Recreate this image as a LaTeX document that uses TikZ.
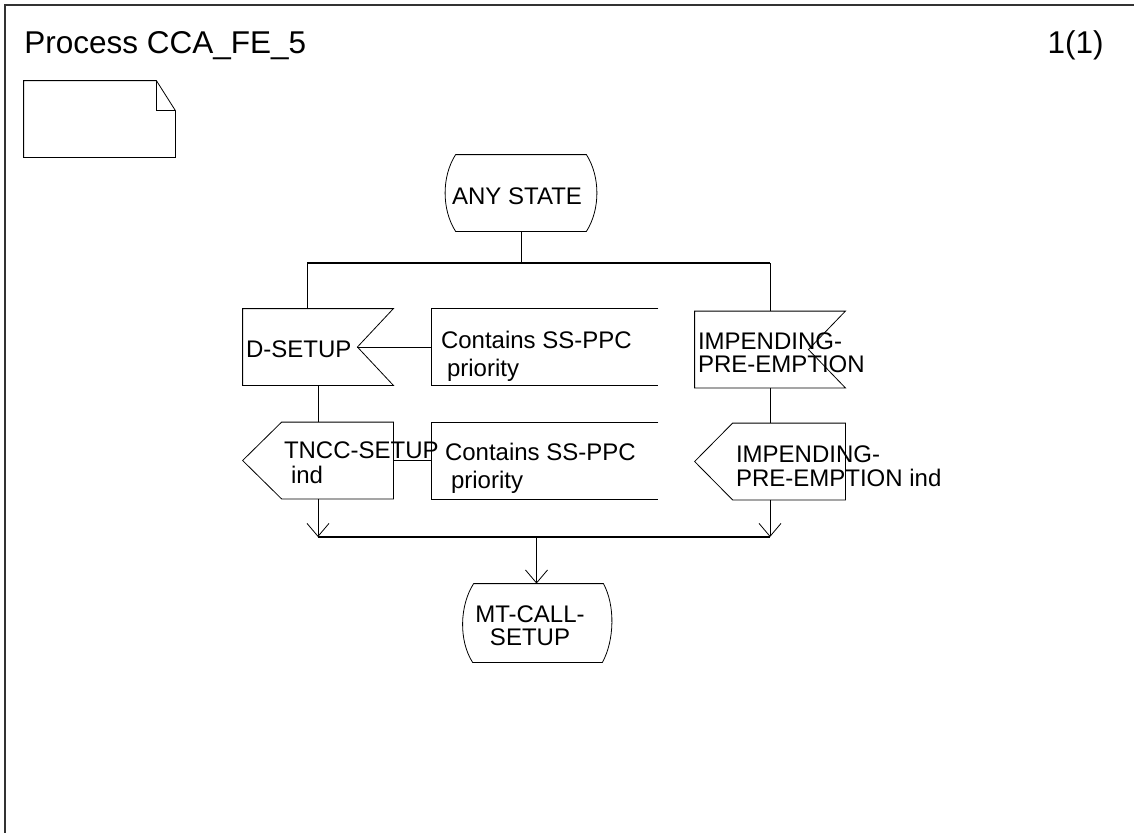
\documentclass[tikz,border=0pt]{standalone}
\usepackage{fontspec}
\setmainfont{Liberation Sans}
\usetikzlibrary{arrows.meta}
\begin{document}
\begin{tikzpicture}[x=1pt,y=-1pt,line width=0.8pt,
  sym/.style={minimum width=150pt,minimum height=76pt,inner sep=0pt},
  txt/.style={anchor=base west,inner sep=0pt,align=left,font=\fontsize{24}{24}\selectfont},
  cmtxt/.style={txt,font=\fontsize{24}{28}\selectfont},
  bus/.style={line width=1.8pt},
  flow/.style={-{Straight Barb[length=13pt,width=22pt]}}]
\useasboundingbox (0,0) rectangle (1134,833);
\draw[line width=1.2pt,black!80] (1134,5) -- (5,5) -- (5,833);
\node[anchor=base west,inner sep=0pt,font=\fontsize{31.5}{32}\selectfont] (title) at (24,53) {Process CCA\_FE\_5};
\node[anchor=base east,inner sep=0pt,font=\fontsize{31.5}{32}\selectfont] (page) at (1104,53) {1(1)};
% text symbol
\node[sym,minimum width=151pt] (note) at (99.5,119) {};
\draw (note.north west) -- ([xshift=-19pt]note.north east) -- ++(19,30) -- (note.south east) -- (note.south west) -- cycle;
\draw ([xshift=-19pt]note.north east) -- ++(0,30) -- ++(19,0);
% start state
\node[sym,minimum width=152pt] (anystate) at (521,193) {};
\draw ([xshift=11pt]anystate.north west) -- ([xshift=-11pt]anystate.north east)
  .. controls +(14,22) and +(14,-22) .. ([xshift=-11pt]anystate.south east)
  -- ([xshift=11pt]anystate.south west)
  .. controls +(-14,-22) and +(-14,22) .. ([xshift=11pt]anystate.north west);
\node[txt,anchor=base] (anystatetxt) at ([shift={(-4,-27)}]anystate.south) {ANY STATE};
\coordinate (splitL) at (307,263);
\coordinate (splitR) at (770,263);
\draw (anystate.south) -- (anystate.south |- splitL);
\draw[bus] (splitL) -- (splitR);
% left branch
\node[sym] (dsetup) at (318,347) {};
\draw (dsetup.north west) -- (dsetup.north east) -- ([xshift=-36pt]dsetup.east) coordinate (dnotch) -- (dsetup.south east) -- (dsetup.south west) -- cycle;
\node[txt] (dsetuptxt) at ([shift={(3,49)}]dsetup.north west) {D-SETUP};
\node[sym,minimum width=226pt] (cmt1) at (545,347) {};
\draw (cmt1.north east) -- (cmt1.north west) -- (cmt1.south west) -- (cmt1.south east);
\node[cmtxt] (cmt1txt) at ([shift={(9,68)}]cmt1.north west) {Contains SS-PPC\\\hspace*{6pt}priority};
\draw (dnotch) -- (cmt1.west);
\draw (splitL) -- (splitL |- dsetup.north);
\node[sym] (tncc) at (318,460.5) {};
\draw ([xshift=39pt]tncc.north west) -- (tncc.north east) -- (tncc.south east) -- ([xshift=39pt]tncc.south west) -- (tncc.west) -- cycle;
\node[txt,font=\fontsize{24}{25}\selectfont] (tncctxt) at ([shift={(41,61)}]tncc.north west) {TNCC-SETUP\\\hspace*{7pt}ind};
\node[sym,minimum width=226pt] (cmt2) at (545,460.5) {};
\draw (cmt2.north east) -- (cmt2.north west) -- (cmt2.south west) -- (cmt2.south east);
\node[cmtxt] (cmt2txt) at ([shift={(13,66)}]cmt2.north west) {Contains SS-PPC\\\hspace*{6pt}priority};
\draw (tncc.east) -- (cmt2.west);
\draw (dsetup.south) -- (tncc.north);
% right branch
\node[sym] (imp) at (770,349.5) {};
\draw (imp.north west) -- (imp.north east) -- ([xshift=-37pt]imp.east) -- (imp.south east) -- (imp.south west) -- cycle;
\node[txt,font=\fontsize{24}{23}\selectfont] (imptxt) at ([shift={(3,61)}]imp.north west) {IMPENDING-\\PRE-EMPTION};
\draw (splitR) -- (imp.north);
\node[sym] (impind) at (770,461.5) {};
\draw ([xshift=38pt]impind.north west) -- (impind.north east) -- (impind.south east) -- ([xshift=38pt]impind.south west) -- (impind.west) -- cycle;
\node[txt] (impindtxt) at ([shift={(41,63)}]impind.north west) {IMPENDING-\\PRE-EMPTION ind};
\draw (imp.south) -- (impind.north);
% join
\coordinate (joinL) at (318,537);
\coordinate (joinR) at (770,537);
\draw[flow] (tncc.south) -- (joinL);
\draw[flow] (impind.south) -- (joinR);
\draw[bus] (joinL) -- (joinR);
\node[sym,minimum width=151pt,minimum height=78pt] (mtcall) at (536.5,623) {};
\draw ([xshift=13pt]mtcall.north west) -- ([xshift=-9pt]mtcall.north east)
  .. controls +(12,22) and +(12,-22) .. ([xshift=-10pt]mtcall.south east)
  -- ([xshift=12pt]mtcall.south west)
  .. controls +(-14,-22) and +(-14,22) .. ([xshift=13pt]mtcall.north west);
\node[txt,anchor=base,align=center,font=\fontsize{24}{23}\selectfont] (mtcalltxt) at ([shift={(-6.5,62)}]mtcall.north) {MT-CALL-\\SETUP};
\draw[flow] (mtcall.north |- joinL) -- (mtcall.north);
\end{tikzpicture}
\end{document}
